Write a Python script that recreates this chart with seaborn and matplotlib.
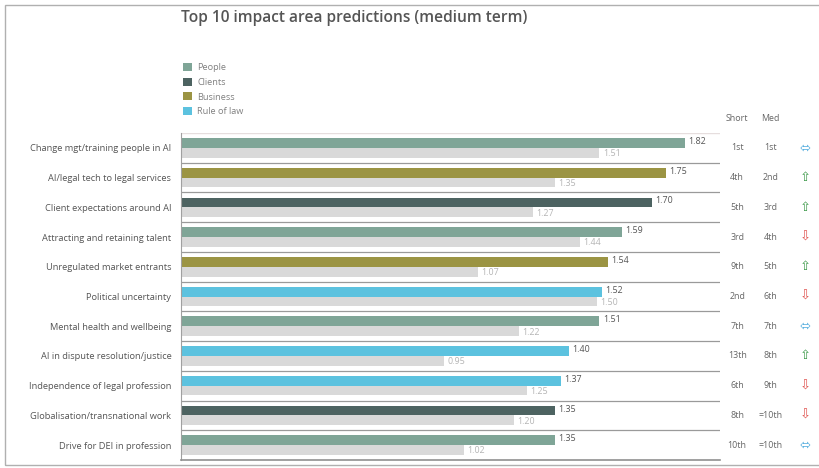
import pandas as pd
import numpy as np
import matplotlib.pyplot as plt
import seaborn as sns
from matplotlib.patches import Patch, Rectangle
import matplotlib.transforms as mtransforms

# chart data
areas = [
    'Change mgt/training people in AI', 'AI/legal tech to legal services',
    'Client expectations around AI', 'Attracting and retaining talent',
    'Unregulated market entrants', 'Political uncertainty',
    'Mental health and wellbeing', 'AI in dispute resolution/justice',
    'Independence of legal profession', 'Globalisation/transnational work',
    'Drive for DEI in profession',
]
groups = ['People', 'Business', 'Clients', 'People', 'Business', 'Rule of law',
          'People', 'Rule of law', 'Rule of law', 'Clients', 'People']
medium = [1.82, 1.75, 1.70, 1.59, 1.54, 1.52, 1.51, 1.40, 1.37, 1.35, 1.35]
short = [1.51, 1.35, 1.27, 1.44, 1.07, 1.50, 1.22, 0.95, 1.25, 1.20, 1.02]
short_rank = ['1st', '4th', '5th', '3rd', '9th', '2nd', '7th', '13th', '6th', '8th', '10th']
med_rank = ['1st', '2nd', '3rd', '4th', '5th', '6th', '7th', '8th', '9th', '=10th', '=10th']
trend = ['same', 'up', 'up', 'down', 'up', 'down', 'same', 'up', 'down', 'down', 'same']

group_colors = {'People': '#7fa597', 'Clients': '#4d6361',
                'Business': '#9b9443', 'Rule of law': '#5cc2df'}
short_color = '#d9d9d9'
trend_style = {'same': ('\u2b04', '#4aa8dc'), 'up': ('\u21e7', '#3d9a4a'),
               'down': ('\u21e9', '#e0534f')}

sns.set_theme(style='white')
plt.rcParams['font.family'] = ['Open Sans', 'DejaVu Sans']

df = pd.DataFrame({
    'area': areas * 2,
    'term': ['Medium'] * len(areas) + ['Short'] * len(areas),
    'score': medium + short,
})

fig = plt.figure(figsize=(8.2, 4.68), dpi=100)
ax = fig.add_axes([181 / 820, 1 - 460 / 468, 539 / 820, 327 / 468])

sns.barplot(data=df, y='area', x='score', hue='term', order=areas,
            hue_order=['Medium', 'Short'], orient='h', dodge=True,
            width=0.66, palette={'Medium': '#888888', 'Short': short_color},
            linewidth=0, edgecolor='none', legend=False, ax=ax)

# recolour the medium-term bars by impact group
for bar, g in zip(ax.containers[0], groups):
    bar.set_facecolor(group_colors[g])

# value labels
for bar, v in zip(ax.containers[0], medium):
    ax.text(bar.get_width() + 0.012, bar.get_y() + bar.get_height() / 2 - 0.05,
            f'{v:.2f}', va='center', ha='left', fontsize=6.4, color='#555555')
for bar, v in zip(ax.containers[1], short):
    ax.text(bar.get_width() + 0.012, bar.get_y() + bar.get_height() / 2 + 0.03,
            f'{v:.2f}', va='center', ha='left', fontsize=6.4, color='#b5b5b5')

ax.set_xlim(0, 1.945)
ax.set_ylim(len(areas) - 0.5, -0.5)
ax.set_xlabel('')
ax.set_ylabel('')
ax.set_xticks([])
ax.tick_params(axis='y', length=0, pad=7, labelsize=6.7, labelcolor='#555555')

for s in ['top', 'right']:
    ax.spines[s].set_visible(False)
ax.spines['left'].set_color('#a0a0a0')
ax.spines['left'].set_linewidth(0.8)
ax.spines['bottom'].set_color('#909090')
ax.spines['bottom'].set_linewidth(1.2)

# row separators
for i in range(len(areas) - 1):
    ax.axhline(i + 0.5, color='#9a9a9a', lw=0.9)
ax.axhline(-0.5, color='#e6dede', lw=1.0)

# rank columns and trend arrows
trans = mtransforms.blended_transform_factory(ax.transAxes, ax.transData)
for i in range(len(areas)):
    ax.text(1.032, i, short_rank[i], transform=trans, ha='center', va='center',
            fontsize=6.4, color='#666666')
    ax.text(1.094, i, med_rank[i], transform=trans, ha='center', va='center',
            fontsize=6.4, color='#666666')
    sym, col = trend_style[trend[i]]
    ax.text(1.158, i, sym, transform=trans, ha='center', va='center',
            fontsize=9.5, color=col, family='DejaVu Sans')
ax.text(1.032, -1.0, 'Short', transform=trans, ha='center', va='center',
        fontsize=6.4, color='#666666')
ax.text(1.094, -1.0, 'Med', transform=trans, ha='center', va='center',
        fontsize=6.4, color='#666666')

# legend
handles = [Patch(facecolor=group_colors[g], edgecolor='none', label=g)
           for g in ['People', 'Clients', 'Business', 'Rule of law']]
leg = fig.legend(handles=handles, loc='upper left', bbox_to_anchor=(175 / 820, 1 - 55 / 468),
                 frameon=False, fontsize=6.6, handlelength=0.95, handleheight=0.95,
                 handletextpad=0.6, labelspacing=0.6)
for t in leg.get_texts():
    t.set_color('#808080')

fig.text(181 / 820, 1 - 18 / 468, 'Top 10 impact area predictions (medium term)',
         ha='left', va='center', fontsize=11.2, fontweight='semibold', color='#555555')

# outer frame
fig.patches.append(Rectangle((5 / 820, 1 - 465 / 468), 830 / 820, 460 / 468,
                             transform=fig.transFigure, fill=False,
                             edgecolor='#b0b0b0', lw=1.0))

fig.savefig('out.png', dpi=100)
